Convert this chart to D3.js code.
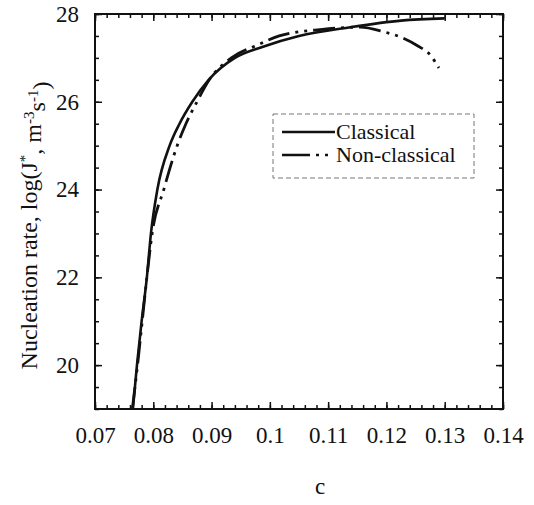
<!DOCTYPE html>
<html>
<head>
<meta charset="utf-8">
<script src="https://d3js.org/d3.v7.min.js"></script>
<style>
  body { margin: 0; background: #fff; }
  text { font-family: "Liberation Serif", "Times New Roman", serif; fill: #111; }
</style>
</head>
<body>
<div id="chart"></div>
<script>
// values
const classicalC = [0.0765, 0.0772, 0.0780, 0.0789, 0.0796, 0.0807, 0.0828, 0.0845, 0.0867, 0.0895, 0.0940, 0.0987, 0.1050, 0.1138, 0.1225, 0.1300];
const classicalLogJ = [19.0, 20.0, 21.0, 22.0, 23.0, 24.0, 25.0, 25.5, 26.0, 26.5, 27.0, 27.25, 27.5, 27.7, 27.85, 27.9];

const nonClassicalC = [0.0764, 0.0773, 0.0781, 0.0789, 0.0798, 0.0818, 0.0841, 0.0856, 0.0875, 0.0896, 0.0934, 0.0980, 0.1016, 0.1090, 0.1155, 0.1194, 0.1223, 0.1254, 0.1275, 0.1290];
const nonClassicalLogJ = [19.0, 20.0, 21.0, 22.0, 23.0, 24.0, 25.0, 25.5, 26.0, 26.5, 27.0, 27.3, 27.5, 27.65, 27.7, 27.6, 27.48, 27.27, 27.07, 26.77];

const xTicks = [0.07, 0.08, 0.09, 0.1, 0.11, 0.12, 0.13, 0.14];
const yTicks = [20, 22, 24, 26, 28];
const seriesNames = ["Classical", "Non-classical"];

const W = 534, H = 505;
const margin = { top: 14, right: 31, bottom: 96, left: 95 };
const w = W - margin.left - margin.right;
const h = H - margin.top - margin.bottom;

const svg = d3.select("#chart").append("svg")
    .attr("width", W)
    .attr("height", H);

svg.append("rect").attr("width", W).attr("height", H).attr("fill", "#fff");

const g = svg.append("g").attr("transform", `translate(${margin.left},${margin.top})`);

const x = d3.scaleLinear().domain([0.07, 0.14]).range([0, w]);
const y = d3.scaleLinear().domain([19, 28]).range([h, 0]);

const xMinor = d3.range(0.07, 0.1401, 0.002);
const yMinor = d3.range(19, 28.01, 0.5);

const major = 7, minor = 4;

// minor ticks, all four sides, pointing in
g.append("g").attr("transform", `translate(0,${h})`)
    .call(d3.axisBottom(x).tickValues(xMinor).tickSize(-minor).tickFormat(""));
g.append("g")
    .call(d3.axisTop(x).tickValues(xMinor).tickSize(-minor).tickFormat(""));
g.append("g")
    .call(d3.axisLeft(y).tickValues(yMinor).tickSize(-minor).tickFormat(""));
g.append("g").attr("transform", `translate(${w},0)`)
    .call(d3.axisRight(y).tickValues(yMinor).tickSize(-minor).tickFormat(""));

// major ticks with labels
g.append("g").attr("class", "xaxis").attr("transform", `translate(0,${h})`)
    .call(d3.axisBottom(x).tickValues(xTicks).tickSize(-major).tickPadding(18).tickFormat(d => +d.toFixed(2)));
g.append("g")
    .call(d3.axisTop(x).tickValues(xTicks).tickSize(-major).tickFormat(""));
g.append("g").attr("class", "yaxis")
    .call(d3.axisLeft(y).tickValues(yTicks).tickSize(-major).tickPadding(16));
g.append("g").attr("transform", `translate(${w},0)`)
    .call(d3.axisRight(y).tickValues(yTicks).tickSize(-major).tickFormat(""));

g.selectAll(".domain").remove();
g.selectAll(".tick line").attr("stroke", "#111").attr("stroke-width", 1.5);
g.selectAll(".tick text")
    .style("font-family", "'Liberation Serif', serif")
    .style("font-size", "23px")
    .attr("fill", "#111");

// frame
g.append("rect")
    .attr("width", w)
    .attr("height", h)
    .attr("fill", "none")
    .attr("stroke", "#111")
    .attr("stroke-width", 2);

// curves
const line = d3.line()
    .x(d => x(d[0]))
    .y(d => y(d[1]))
    .curve(d3.curveMonotoneX);

const classical = classicalC.map((c, i) => [c, classicalLogJ[i]]);
const nonClassical = nonClassicalC.map((c, i) => [c, nonClassicalLogJ[i]]);

g.append("path")
    .attr("d", line(nonClassical))
    .attr("fill", "none")
    .attr("stroke", "#111")
    .attr("stroke-width", 2.8)
    .attr("stroke-dasharray", "22,6,3,6,3,6");

g.append("path")
    .attr("d", line(classical))
    .attr("fill", "none")
    .attr("stroke", "#111")
    .attr("stroke-width", 2.6);

// legend
const lg = svg.append("g").attr("transform", "translate(273,114)");
lg.append("rect")
    .attr("width", 201)
    .attr("height", 64)
    .attr("fill", "#fff")
    .attr("stroke", "#777")
    .attr("stroke-width", 1)
    .attr("stroke-dasharray", "5,3");

const dashes = [null, "28,6,3,6,3"];
seriesNames.forEach((name, i) => {
    const yy = 18 + i * 23;
    lg.append("line")
        .attr("x1", 9).attr("x2", 62)
        .attr("y1", yy).attr("y2", yy)
        .attr("stroke", "#111")
        .attr("stroke-width", 2.6)
        .attr("stroke-dasharray", dashes[i]);
    lg.append("text")
        .attr("x", 63)
        .attr("y", yy)
        .attr("dy", "0.33em")
        .style("font-size", "22px")
        .text(name);
});

// axis titles
svg.append("text")
    .attr("x", 320)
    .attr("y", 494)
    .attr("text-anchor", "middle")
    .style("font-size", "23px")
    .text("c");

const yl = svg.append("text")
    .attr("transform", `translate(37,${margin.top + h / 2 + 14}) rotate(-90)`)
    .attr("text-anchor", "middle")
    .style("font-size", "24px");
yl.append("tspan").text("Nucleation rate, log(J");
yl.append("tspan").attr("dy", "-0.45em").style("font-size", "15px").text("*");
yl.append("tspan").attr("dy", "0.45em").text(", m");
yl.append("tspan").attr("dy", "-0.45em").style("font-size", "15px").text("-3");
yl.append("tspan").attr("dy", "0.45em").text("s");
yl.append("tspan").attr("dy", "-0.45em").style("font-size", "15px").text("-1");
yl.append("tspan").attr("dy", "0.45em").text(")");
</script>
</body>
</html>
